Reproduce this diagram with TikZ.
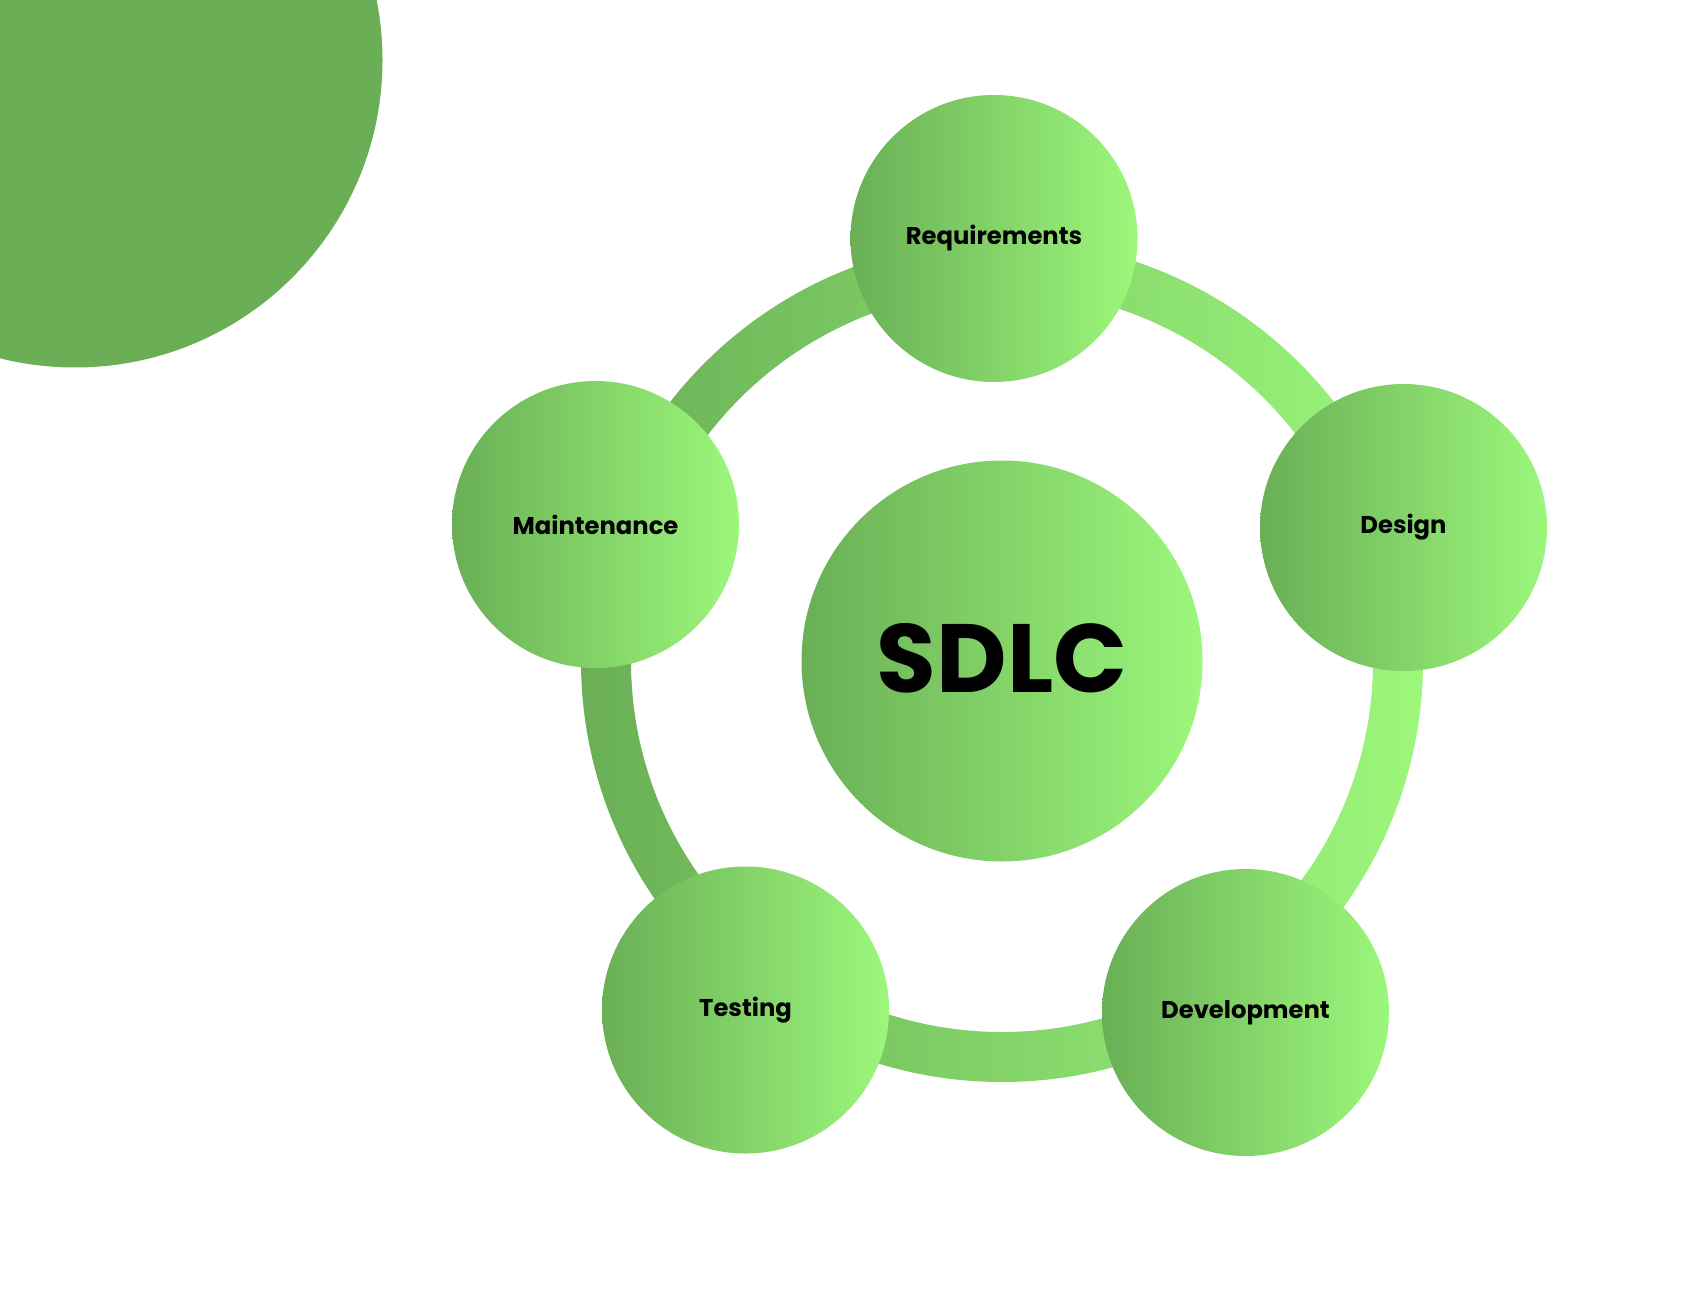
\documentclass[tikz,border=0pt]{standalone}
\usepackage{fontspec}
\setmainfont{Poppins}
\usepackage{tikz}
\usetikzlibrary{positioning}
\definecolor{gdark}{HTML}{6AAF56}
\definecolor{glight}{HTML}{9CF77B}
\tikzset{phase/.style = {circle, minimum size=2.87cm, inner sep=0,
                         left color=gdark, right color=glight,
                         font=\bfseries\fontsize{6.9}{8}\selectfont}}
\tikzset{hub/.style = {phase, minimum size=4.01cm,
                       font=\bfseries\fontsize{27.6}{30}\selectfont}}
\begin{document}
\begin{tikzpicture}
        \useasboundingbox (0,0) rectangle (17.01,13.01);
        \clip (0,0) rectangle (17.01,13.01);
        \fill[gdark] (0.75,12.41) circle (3.075);
        \coordinate (c) at (10.02,6.40);
        % ring behind the phases
        \shade[left color=gdark, right color=glight, even odd rule]
          (c) circle (4.21)   % outer edge
          (c) circle (3.71);  % inner edge
        \node[hub] (sdlc) at (c) {\raisebox{0.6mm}{SDLC}};
        \node[phase] (req) at (9.94,10.625) {Requirements};
        \node[phase] (des) at (14.035,7.735) {Design};
        \node[phase] (dev) at (12.455,2.885) {Development};
        \node[phase] (tst) at (7.455,2.91) {Testing};
        \node[phase] (mnt) at (5.955,7.765) {Maintenance};
      \end{tikzpicture}
\end{document}
